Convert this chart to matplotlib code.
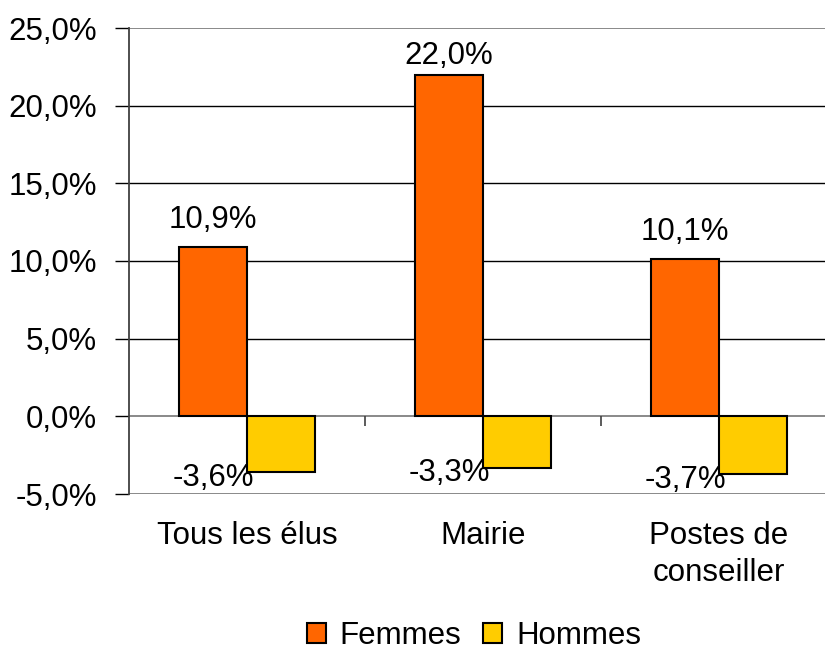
import numpy as np
import matplotlib.pyplot as plt
from matplotlib.transforms import offset_copy

plt.rcParams['font.family'] = ['Liberation Sans', 'DejaVu Sans']
plt.rcParams['font.size'] = 22.5

categories = ['Tous les élus', 'Mairie', 'Postes de\nconseiller']
femmes = [10.9, 22.0, 10.1]
hommes = [-3.6, -3.3, -3.7]
yticks = [-5, 0, 5, 10, 15, 20, 25]

def fmt(v):
    return ('%.1f%%' % v).replace('.', ',')

fig = plt.figure(figsize=(8.25, 6.5), dpi=100)
ax = fig.add_axes([129/825, 156/650, 708/825, 466/650])

x = np.arange(len(categories))
w = 0.288
ax.bar(x - w/2, femmes, w, color='#FF6600', edgecolor='black', linewidth=1.5, label='Femmes', zorder=3)
ax.bar(x + w/2, hommes, w, color='#FFCC00', edgecolor='black', linewidth=1.5, label='Hommes', zorder=3)

ax.set_xlim(-0.5, 2.5)
ax.set_ylim(-5, 25)

# grille noire, lignes de bord et axe zéro en gris
for y in yticks:
    if y in (-5, 0, 25):
        ax.axhline(y, color='#808080', lw=1.3, zorder=2)
    else:
        ax.axhline(y, color='black', lw=1.0, zorder=1)

for s in ['top', 'right', 'bottom']:
    ax.spines[s].set_visible(False)
ax.spines['left'].set_color('#404040')
ax.spines['left'].set_linewidth(1.3)

ax.set_yticks(yticks)
ax.set_yticklabels([fmt(v) for v in yticks])
ax.tick_params(axis='y', length=10, width=1.0, pad=13, color='black')
ax.set_xticks([])

# petites graduations entre les catégories sur l'axe zéro
ax.vlines([0.5, 1.5], -0.65, 0, color='#404040', lw=1.2, zorder=2)

for i, v in enumerate(femmes):
    # étiquette rapprochée de la barre quand elle toucherait le haut du graphique
    dy = 7.5 if v > 20 else 14
    tr = offset_copy(ax.transData, fig=fig, x=0, y=dy, units='points')
    ax.text(x[i] - w/2, v, fmt(v), ha='center', va='baseline', transform=tr)
for i, v in enumerate(hommes):
    tr = offset_copy(ax.transData, fig=fig, x=0, y=-10, units='points')
    ax.text(x[i] - w/2, v, fmt(v), ha='center', va='baseline', transform=tr, zorder=4)

for i, c in enumerate(categories):
    tr = offset_copy(ax.transData, fig=fig, x=0, y=-19.5, units='points')
    ax.text(x[i], -5, c, ha='center', va='top', transform=tr, linespacing=1.28)

fig.legend(loc='center', bbox_to_anchor=(474/825, 1 - 636/650), ncol=2, frameon=False,
           handlelength=0.6, handleheight=0.6, handletextpad=0.45, columnspacing=0.7,
           borderaxespad=0)

fig.savefig('out.png', dpi=100)
